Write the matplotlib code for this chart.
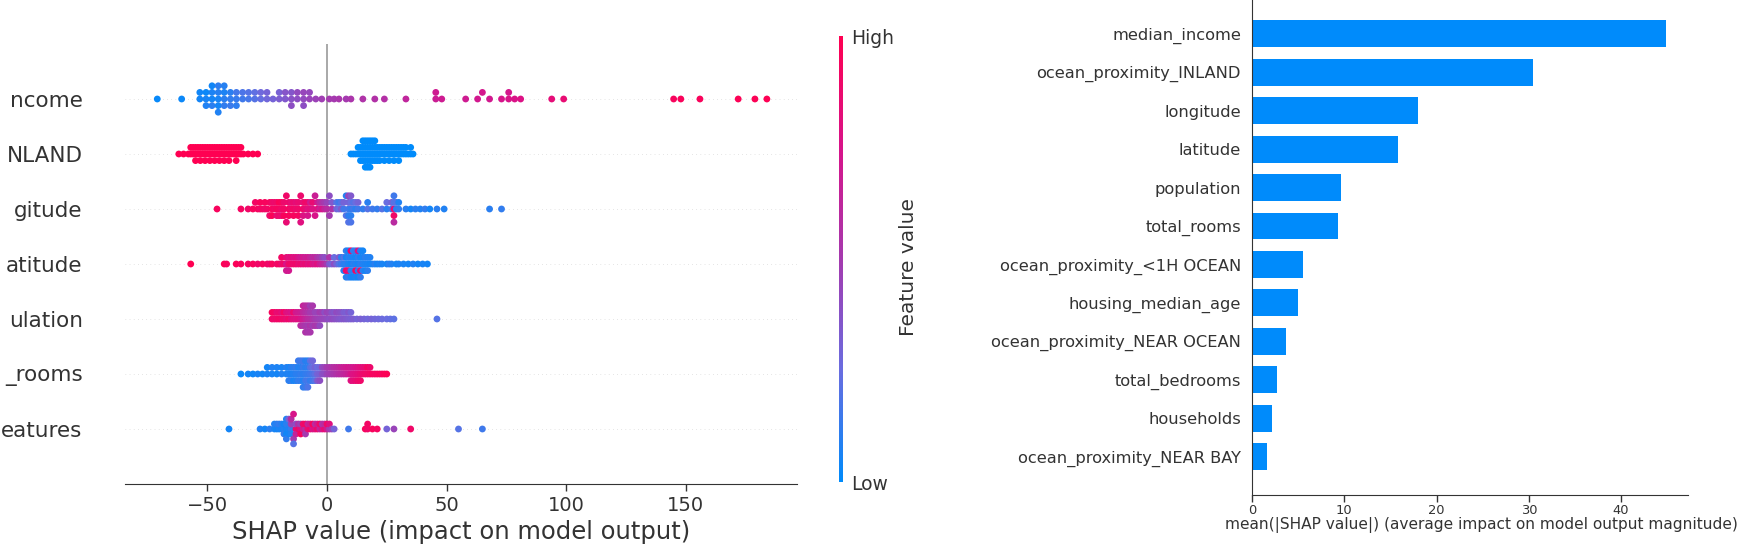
import numpy as np
import matplotlib
matplotlib.use("Agg")
import matplotlib.pyplot as plt
from matplotlib.colors import LinearSegmentedColormap

# ---------------- data ----------------
# visible (left-clipped) feature labels of the beeswarm panel, top to bottom
beeswarm_labels = ["ncome", "NLAND", "gitude", "atitude", "ulation", "_rooms", "eatures"]

# (SHAP value, normalised feature value) pairs
median_income_pts = [
    (-71, .02), (-60.8, .03),
    (-53.2, .05), (-53.2, .04),
    (-50.6, .06), (-50.6, .03), (-50.6, .08),
    (-48.1, .05), (-48.1, .07), (-48.1, .10), (-48.1, .04),
    (-45.5, .06), (-45.5, .09), (-45.5, .05), (-45.5, .11), (-45.5, .08),
    (-43.0, .10), (-43.0, .07), (-43.0, .12), (-43.0, .09),
    (-40.4, .12), (-40.4, .10), (-40.4, .14),
    (-37.9, .13), (-37.9, .16), (-37.9, .11),
    (-35.3, .15), (-35.3, .18),
    (-32.8, .17), (-32.8, .20),
    (-30.2, .20), (-30.2, .23),
    (-27.7, .24), (-27.7, .27),
    (-25.1, .28), (-25.1, .30),
    (-22.6, .30),
    (-20.0, .33), (-20.0, .31),
    (-17.5, .35), (-17.5, .37),
    (-14.9, .38), (-14.9, .36), (-14.9, .40),
    (-12.4, .40), (-12.4, .42),
    (-9.8, .42), (-9.8, .44), (-9.8, .40),
    (-7.3, .45), (-7.3, .43),
    (-4.7, .46), (-2.2, .48),
    (1, .50), (3, .50), (5, .52), (8, .50), (10, .53), (15, .55), (20, .56), (24, .57),
    (33, .63), (45.5, .68), (45.5, .70), (48, .70), (58, .70), (63, .72), (65, .73), (68, .72),
    (73, .74), (76, .75), (76, .73), (78.5, .76), (81, .77), (94, .83), (99, .85),
    (145, .95), (148, .96), (156, .96), (172, .98), (179, .98), (184, .99)]

inland_red = [-62, -60, -58, -57, -57, -56, -56, -55, -55, -55, -54, -54, -53, -53, -53, -52, -52,
              -51, -51, -51, -50, -50, -49, -49, -49, -48, -48, -47, -47, -47, -46, -46, -45, -45, -45,
              -44, -44, -43, -43, -43, -42, -42, -41, -41, -41, -40, -40, -39, -39, -38, -38, -38,
              -37, -37, -36, -36, -35, -33, -31, -29]
inland_blue = [10, 11, 12, 13, 13, 14, 14, 14, 15, 15, 15, 15, 16, 16, 16, 16, 16, 17, 17, 17, 17, 17,
               18, 18, 18, 18, 18, 19, 19, 19, 19, 20, 20, 20, 20, 21, 21, 21, 22, 22, 22, 23, 23,
               24, 24, 24, 25, 25, 26, 26, 26, 27, 27, 28, 28, 28, 29, 29, 30, 30, 30, 31, 31, 32, 32,
               33, 33, 34, 35, 35, 36]

longitude_pts = [
    (-46, .95), (-36, .93),
    (-33, .90), (-31, .95), (-30, .92), (-29, .95), (-28, .90), (-28, .96), (-27, .93), (-26, .90),
    (-26, .95), (-25, .92), (-24, .94), (-24, .88),
    (-23, .95), (-23, .90), (-23, .97), (-22, .92), (-22, .88), (-21, .95), (-21, .90), (-21, .85),
    (-20, .93), (-20, .97), (-20, .88), (-19, .90), (-19, .95), (-19, .86), (-18, .92), (-18, .88),
    (-18, .96), (-17, .90), (-17, .85), (-16, .93), (-16, .88), (-16, .95), (-15, .90), (-15, .84),
    (-14, .92), (-14, .87), (-14, .95), (-13, .89), (-13, .83), (-12, .90), (-12, .86), (-12, .94),
    (-11, .88), (-11, .80), (-10, .90), (-10, .84), (-10, .78), (-9, .85), (-9, .90), (-8, .80),
    (-8, .88), (-8, .75),
    (-7, .82), (-7, .70), (-6, .78), (-6, .85), (-5, .75), (-5, .68), (-4, .80), (-4, .72), (-3, .70),
    (-3, .60), (-2, .75), (-2, .55), (-1, .65), (-1, .50), (0, .60), (0, .45), (1, .50), (1, .40),
    (2, .55), (2, .35),
    (4, .30), (4, .20), (5, .25), (5, .15), (6, .35), (6, .20), (7, .15), (7, .30), (8, .20), (8, .10),
    (9, .15), (9, .30), (9, .10), (9, .45), (9, .20), (10, .12), (10, .25), (10, .10), (10, .35), (10, .18),
    (11, .15), (11, .20), (12, .10), (12, .25), (13, .15), (13, .30), (15, .12), (17, .20), (17, .10),
    (19, .15), (21, .12), (23, .20), (25, .10), (25, .25), (27, .15), (27, .30),
    (28, .85), (28, .20), (28, .90), (28, .15), (28, .60), (29, .10), (29, .20), (30, .12), (30, .08),
    (33, .10), (35, .05), (37, .10), (39, .08), (41, .12), (43, .05), (46, .10), (49, .08), (68, .10), (73, .12)]

latitude_pts = [
    (-57, 1.0), (-43, .98), (-42, .95), (-38, .97), (-36, .95), (-33, .93), (-31, .95), (-29, .90),
    (-27, .94), (-25, .92), (-24, .88), (-23, .95), (-21, .90), (-20, .93), (-19, .87), (-19, .92),
    (-18, .90), (-17, .75), (-17, .85), (-17, .70), (-16, .88), (-16, .80), (-16, .72),
    (-15, .90), (-15, .82), (-14, .88), (-14, .78), (-13, .90), (-13, .80), (-12, .85), (-12, .75),
    (-11, .88), (-11, .70), (-10, .82), (-10, .72), (-9, .85), (-9, .68), (-8, .80), (-8, .70),
    (-7, .83), (-7, .65), (-6, .78), (-6, .60), (-5, .75), (-5, .62), (-4, .80), (-4, .55), (-3, .70),
    (-3, .50), (-2, .65), (-2, .45), (-1, .60), (-1, .40),
    (0, .50), (1, .35), (1, .55), (2, .30), (3, .40), (3, .25), (4, .30), (5, .20), (5, .35),
    (6, .15), (6, .10), (7, .10), (7, .20), (7, .08),
    (8, .10), (8, .05), (8, .90), (8, .12), (8, .08),
    (9, .07), (9, .10), (9, .85), (9, .05), (9, .12),
    (10, .05), (10, .08), (10, .10), (10, .90), (10, .06),
    (11, .10), (11, .06), (11, .08), (11, .12), (11, .05),
    (12, .08), (12, .05), (12, .95), (12, .10), (12, .07),
    (13, .06), (13, .10), (13, .08), (13, .80), (13, .05),
    (14, .10), (14, .05), (14, .88), (14, .07), (14, .12),
    (15, .08), (15, .06), (15, .10), (15, .05),
    (16, .07), (16, .10), (16, .05), (17, .06), (17, .08), (17, .10), (18, .05), (18, .08),
    (19, .06), (20, .10), (21, .05), (22, .08), (23, .06), (25, .05), (26, .10), (27, .08), (29, .05),
    (30, .07), (32, .06), (34, .05), (36, .08), (38, .05), (40, .06), (42, .05)]

population_pts = [
    (-23, .90), (-23, .95), (-22, .88), (-22, .93), (-21, .90), (-21, .85), (-20, .92), (-20, .87),
    (-19, .90), (-19, .82), (-18, .88), (-18, .93), (-17, .85), (-17, .80), (-16, .90), (-16, .78),
    (-15, .83), (-15, .75), (-14, .80), (-14, .88), (-13, .78), (-13, .72), (-12, .80), (-12, .70),
    (-11, .75), (-11, .68), (-11, .60),
    (-10, .70), (-10, .62), (-10, .55), (-10, .65),
    (-9, .65), (-9, .58), (-9, .52), (-9, .60), (-9, .55),
    (-8, .60), (-8, .55), (-8, .50), (-8, .58), (-8, .52),
    (-7, .58), (-7, .50), (-7, .55), (-7, .48), (-7, .52),
    (-6, .55), (-6, .50), (-6, .48), (-6, .52),
    (-5, .50), (-5, .45), (-5, .52), (-4, .48), (-4, .45), (-4, .50), (-3, .46), (-3, .50), (-3, .42),
    (-2, .45), (-2, .48), (-1, .44), (-1, .40), (0, .42), (0, .46), (1, .40), (1, .44), (2, .42), (2, .38),
    (3, .40), (3, .36), (4, .38), (4, .42), (5, .36), (5, .40), (6, .35), (6, .38), (7, .36), (7, .33),
    (8, .35), (8, .32), (9, .33), (9, .36), (10, .32), (10, .30),
    (11, .33), (12.5, .30), (14, .32), (15.5, .30), (17, .28), (18.5, .30), (20, .28), (21.5, .27),
    (23, .26), (25, .25), (26.5, .24), (28, .22), (46, .20)]

total_rooms_pts = [
    (-36, .03), (-33, .05), (-31, .04), (-29, .06), (-27, .05), (-25, .07), (-25, .05), (-23, .06),
    (-23, .08), (-21, .05), (-21, .07), (-19, .08), (-19, .06), (-17, .07), (-17, .09),
    (-16, .08), (-16, .06), (-16, .10), (-15, .07), (-15, .09), (-15, .11), (-14, .08), (-14, .10),
    (-14, .06), (-13, .10), (-13, .12), (-13, .08),
    (-12, .10), (-12, .08), (-12, .12), (-12, .14), (-11, .12), (-11, .09), (-11, .11), (-11, .15),
    (-10, .10), (-10, .13), (-10, .08), (-10, .15), (-10, .11),
    (-9, .12), (-9, .10), (-9, .15), (-9, .09), (-9, .14),
    (-8, .13), (-8, .11), (-8, .16), (-8, .10), (-8, .18),
    (-7, .15), (-7, .20), (-7, .12), (-7, .22), (-6, .18), (-6, .25), (-6, .15), (-6, .28),
    (-5, .22), (-5, .30), (-5, .20), (-4, .30), (-4, .25), (-4, .35), (-3, .32), (-3, .28), (-3, .40),
    (-2, .38), (-2, .42), (-1, .40), (-1, .45), (0, .45), (0, .50), (1, .48), (1, .52), (2, .50),
    (2, .55), (3, .52), (3, .58), (4, .55), (4, .60), (5, .58), (5, .62), (6, .60), (6, .65), (7, .62),
    (7, .68), (8, .65), (8, .70), (9, .68), (9, .72),
    (10, .75), (10, .70), (10, .80), (11, .78), (11, .72), (11, .82), (12, .80), (12, .75), (12, .85),
    (13, .82), (13, .78), (13, .88), (14, .85), (14, .80), (14, .90), (15, .88), (15, .82), (16, .90),
    (16, .85), (17, .90), (17, .93), (18, .92), (18, .88), (19, .95), (20, .93), (21, .95), (22, .96),
    (23, .95), (24, .97), (25, .98)]

other_features_pts = [
    (-41, .05), (-28, .08), (-26, .05), (-24, .10), (-22, .06), (-22, .08), (-21, .05), (-21, .10),
    (-20, .07), (-20, .12), (-19, .06), (-19, .09),
    (-18, .08), (-18, .05), (-18, .12),
    (-17, .06), (-17, .10), (-17, .04), (-17, .08), (-17, .12),
    (-16, .07), (-16, .10), (-16, .05), (-16, .30),
    (-15, .12), (-15, .45), (-15, .08), (-15, .60),
    (-14, .50), (-14, .75), (-14, .20),
    (-13, .85), (-13, .40), (-13, .65), (-12, .90), (-12, .55), (-11, .80), (-11, .45), (-11, .95),
    (-10, .70), (-10, .88), (-9, .60), (-9, .92), (-9, .50), (-8, .85), (-8, .65), (-7, .90), (-7, .70),
    (-6, .75), (-6, .95), (-5, .80), (-5, .60),
    (-4, .88), (-4, .70), (-3, .65), (-3, .90), (-2, .75), (-2, .55), (-1, .85), (-1, .60), (0, .70),
    (0, .90), (1, .50), (1, .80), (2, .45), (3, .30),
    (9, .15), (16, .95), (17, .90), (17, .92), (19, .95), (21, .93), (25, .30), (28, .45), (35, .90),
    (55, .20), (65, .15)]

inland_pts = [(v, 1.0) for v in inland_red] + [(v, 0.0) for v in inland_blue]
beeswarm_rows = [median_income_pts, inland_pts, longitude_pts, latitude_pts,
                 population_pts, total_rooms_pts, other_features_pts]

bar_features = ["median_income", "ocean_proximity_INLAND", "longitude", "latitude", "population", "total_rooms",
                "ocean_proximity_<1H OCEAN", "housing_median_age", "ocean_proximity_NEAR OCEAN",
                "total_bedrooms", "households", "ocean_proximity_NEAR BAY"]
bar_values = [44.9, 30.4, 18.0, 15.8, 9.6, 9.3, 5.5, 5.0, 3.7, 2.7, 2.2, 1.6]

# ---------------- style ----------------
W, H = 1753, 558
DPI = 100
AX_COLOR = "#333333"
BLUE = "#008bfb"
cmap = LinearSegmentedColormap.from_list(
    "red_blue", [(0.0, "#008bfb"), (0.25, "#6a6de0"), (0.5, "#a53aaf"), (0.75, "#d8148a"), (1.0, "#ff0052")])


def px(x0, y0, x1, y1):
    """axes rect from a pixel box (top-left origin)"""
    return [x0 / W, 1 - y1 / H, (x1 - x0) / W, (y1 - y0) / H]


fig = plt.figure(figsize=(W / DPI, H / DPI), dpi=DPI)
fig.patch.set_facecolor("white")

# ---------------- beeswarm ----------------
ax = fig.add_axes(px(125, 44, 797, 484))
n = len(beeswarm_labels)
row_height = 0.4
for i, pts in enumerate(beeswarm_rows):
    pos = n - 1 - i
    vals = np.array([p[0] for p in pts], float)
    fv = np.array([p[1] for p in pts], float)
    ax.axhline(pos, color="#cccccc", lw=0.5, dashes=(1, 5), zorder=-1)
    nbins = 100
    quant = np.round(nbins * (vals - vals.min()) / (vals.max() - vals.min() + 1e-8))
    inds = np.argsort(quant, kind="stable")
    layer, last_bin = 0, -1
    ys = np.zeros(len(vals))
    for ind in inds:
        if quant[ind] != last_bin:
            layer = 0
        ys[ind] = np.ceil(layer / 2) * ((layer % 2) * 2 - 1)
        layer += 1
        last_bin = quant[ind]
    ys *= 0.9 * (row_height / np.max(ys + 1))
    ax.scatter(vals, pos + ys, c=fv, cmap=cmap, vmin=0, vmax=1, s=24, linewidths=0, zorder=3)

ax.axvline(0, color="#999999", lw=1.2, zorder=-1)
ax.set_xlim(-84.5, 196.6)
ax.set_ylim(-1, n)
ax.set_yticks(range(n))
ax.set_yticklabels(list(reversed(beeswarm_labels)), fontsize=15.5, color=AX_COLOR)
ax.tick_params(axis="y", length=0, pad=30.5)
ax.set_xticks([-50, 0, 50, 100, 150])
ax.set_xticklabels(["\u221250", "0", "50", "100", "150"])
ax.tick_params(axis="x", labelsize=14, color=AX_COLOR, labelcolor=AX_COLOR, length=5, width=1)
for s in ["left", "top", "right"]:
    ax.spines[s].set_visible(False)
ax.spines["bottom"].set_color(AX_COLOR)
ax.set_xlabel("SHAP value (impact on model output)", fontsize=17.5, color=AX_COLOR, labelpad=4)

# colorbar
cax = fig.add_axes(px(839, 36, 843, 482))
grad = np.linspace(0, 1, 256).reshape(-1, 1)
cax.imshow(grad, aspect="auto", cmap=cmap, origin="lower", extent=[0, 1, 0, 1])
cax.set_xticks([])
cax.yaxis.tick_right()
cax.set_yticks([0, 1])
cax.set_yticklabels(["Low", "High"], fontsize=13.5, color=AX_COLOR)
cax.tick_params(axis="y", length=0, pad=6)
for s in cax.spines.values():
    s.set_visible(False)
fig.text(908 / W, 1 - 267 / H, "Feature value", rotation=90, ha="center", va="center",
         fontsize=14.5, color=AX_COLOR)

# ---------------- bar ----------------
bx = fig.add_axes(px(1252, 0, 1688, 495))
m = len(bar_features)
ypos = [m - 1 - i for i in range(m)]
bx.barh(ypos, bar_values, height=0.7, color=BLUE, align="center")
bx.set_xlim(0, 47.25)
bx.set_ylim(-1, m - 1 + 33.8 / 38.4)
bx.set_yticks(ypos)
bx.set_yticklabels(bar_features, fontsize=11.7, color=AX_COLOR)
bx.tick_params(axis="y", length=0, pad=8)
bx.set_xticks([0, 10, 20, 30, 40])
bx.tick_params(axis="x", labelsize=9.4, color=AX_COLOR, labelcolor=AX_COLOR, length=5, width=1, pad=1.5)
for s in ["top", "right"]:
    bx.spines[s].set_visible(False)
bx.spines["left"].set_color(AX_COLOR)
bx.spines["bottom"].set_color(AX_COLOR)
bx.set_xlabel("mean(|SHAP value|) (average impact on model output magnitude)", fontsize=11.1,
              color=AX_COLOR)
bx.xaxis.set_label_coords((1481 - 1252) / (1688 - 1252), (525 - 495) / -495.0, transform=bx.transAxes)
bx.xaxis.label.set_va("center")

fig.savefig("out.png", dpi=DPI, facecolor="white")
